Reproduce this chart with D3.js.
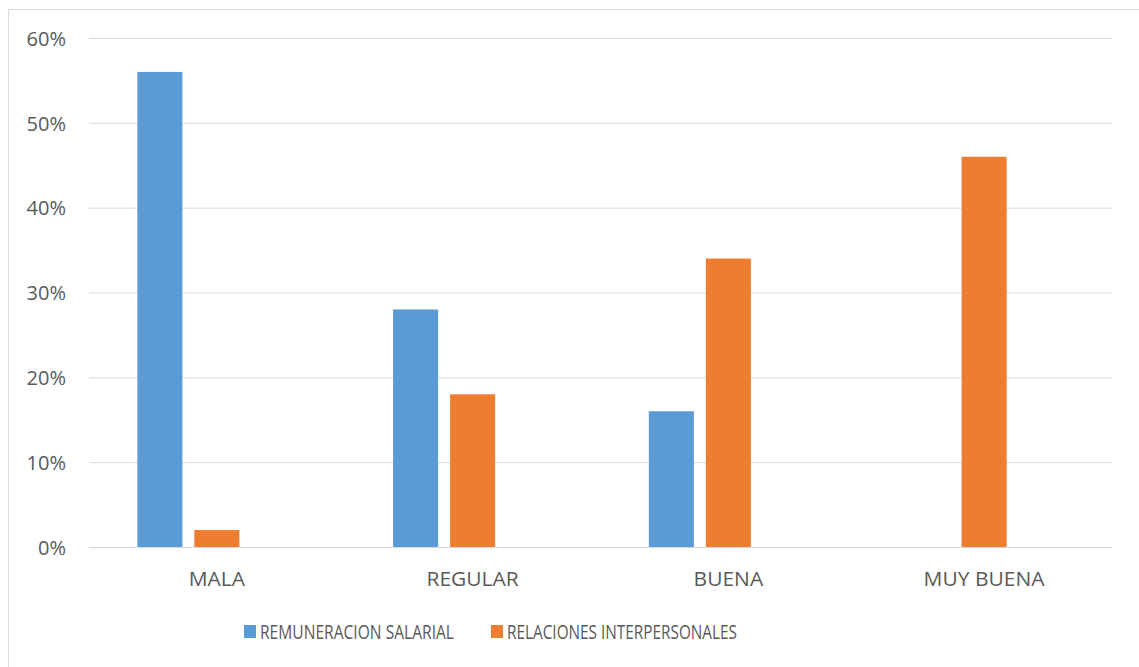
<!DOCTYPE html>
<html>
<head>
<meta charset="utf-8">
<script src="https://cdn.jsdelivr.net/npm/d3@7/dist/d3.min.js"></script>
<style>
  html, body { margin: 0; padding: 0; background: #ffffff; }
  svg { display: block; }
  text { font-family: "Open Sans", "Liberation Sans", sans-serif; fill: #595959; }
</style>
</head>
<body>
<svg id="chart" width="1139" height="667"></svg>
<script>
// Categories and series
const categories = ["MALA", "REGULAR", "BUENA", "MUY BUENA"];
const seriesNames = ["REMUNERACION SALARIAL", "RELACIONES INTERPERSONALES"];
const remuneracion = [0.56, 0.28, 0.16, 0];
const relaciones = [0.02, 0.18, 0.34, 0.46];
const seriesColors = ["#5B9BD5", "#ED7D31"];
const yTicks = [0, 0.1, 0.2, 0.3, 0.4, 0.5, 0.6];

const seriesValues = [remuneracion, relaciones];
const W = 1139, H = 667;
const margin = { left: 89, right: 27, top: 38, bottom: 120 };
const svg = d3.select("#chart");

// chart frame
svg.append("rect")
  .attr("x", 8.5).attr("y", 9.5)
  .attr("width", W + 10).attr("height", H + 10)
  .attr("fill", "none").attr("stroke", "#D9D9D9").attr("stroke-width", 1);

const x0 = d3.scaleBand().domain(categories)
  .range([margin.left, W - margin.right]).padding(0);
const y = d3.scaleLinear().domain([0, 0.6]).range([H - margin.bottom, margin.top]);

// three slots per group (third slot left empty)
const groupW = x0.bandwidth() * 0.622;
const x1 = d3.scaleBand().domain([0, 1, 2])
  .range([(x0.bandwidth() - groupW) / 2, (x0.bandwidth() + groupW) / 2])
  .paddingInner(0.21).paddingOuter(0);

// gridlines
const grid = svg.append("g")
  .attr("transform", `translate(${margin.left},0)`)
  .call(d3.axisLeft(y).tickValues(yTicks).tickSize(-(W - margin.right - margin.left)).tickFormat(""));
grid.select(".domain").remove();
grid.selectAll(".tick line").attr("stroke", "#D9D9D9").attr("stroke-width", 1);

// y tick labels
const yAxis = svg.append("g")
  .attr("transform", `translate(${margin.left - 23},0)`)
  .call(d3.axisLeft(y).tickValues(yTicks).tickSize(0).tickPadding(0).tickFormat(d3.format(".0%")));
yAxis.select(".domain").remove();
yAxis.selectAll(".tick text")
  .attr("font-size", 20).attr("fill", "#595959")
  .attr("font-family", "'Open Sans', sans-serif")
  .attr("dy", "0.36em");

// bars
seriesValues.forEach((vals, si) => {
  svg.append("g").selectAll("rect")
    .data(categories.map((c, i) => ({ c, v: vals[i] })).filter(d => d.v > 0))
    .join("rect")
    .attr("x", d => x0(d.c) + x1(si))
    .attr("width", x1.bandwidth())
    .attr("y", d => y(d.v))
    .attr("height", d => y(0) - y(d.v))
    .attr("fill", seriesColors[si]);
});

// baseline
svg.append("line")
  .attr("x1", margin.left).attr("x2", W - margin.right)
  .attr("y1", y(0) + 0.5).attr("y2", y(0) + 0.5)
  .attr("stroke", "#D9D9D9").attr("stroke-width", 1);

// category labels
const xAxis = svg.append("g")
  .attr("transform", `translate(0,${y(0)})`)
  .call(d3.axisBottom(x0).tickSize(0).tickPadding(0));
xAxis.select(".domain").remove();
xAxis.selectAll(".tick text")
  .attr("font-size", 20).attr("fill", "#595959")
  .attr("font-family", "'Open Sans', sans-serif")
  .attr("dy", 0).attr("y", 39)
  .attr("transform", "scale(1.05,1)");

// legend
const legendItems = [
  { name: seriesNames[0], color: seriesColors[0], x: 244, len: 194 },
  { name: seriesNames[1], color: seriesColors[1], x: 491, len: 230 }
];
const lg = svg.append("g");
legendItems.forEach(it => {
  lg.append("rect").attr("x", it.x).attr("y", 625).attr("width", 12).attr("height", 13).attr("fill", it.color);
  lg.append("text").attr("x", it.x + 16).attr("y", 639)
    .attr("font-size", 20)
    .attr("textLength", it.len).attr("lengthAdjust", "spacingAndGlyphs")
    .text(it.name);
});
</script>
</body>
</html>
